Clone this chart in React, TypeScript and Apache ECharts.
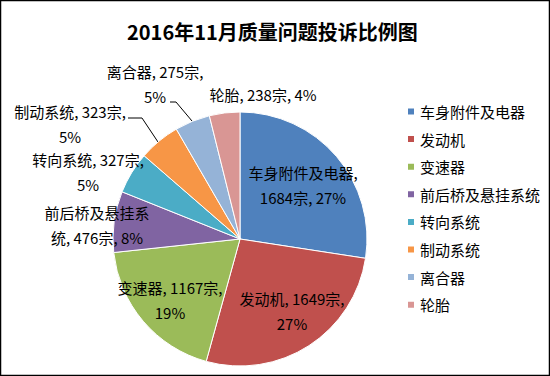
import React, { useEffect, useRef } from "react";
import * as echarts from "echarts";

const titleText = "2016年11月质量问题投诉比例图";
const categories = ["车身附件及电器", "发动机", "变速器", "前后桥及悬挂系统", "转向系统", "制动系统", "离合器", "轮胎"];
const counts = [1684, 1649, 1167, 476, 327, 323, 275, 238];
const colors = ["#4F81BD", "#C0504D", "#9BBB59", "#8064A2", "#4BACC6", "#F79646", "#95B3D7", "#D99694"];
// where each label's line break goes: "name" after the name, "count" after the count, a number = char index in the name, "none"
const labelBreaks: (string | number)[] = ["name", "count", "count", 7, "count", "count", "count", "none"];
// label centres (layout only)
const labelCenters: number[][] = [
  [303, 185],
  [292, 311],
  [170, 300],
  [97, 225],
  [88, 172],
  [70, 124],
  [155, 84],
  [263, 94],
];
const leaderLines: (number[][] | null)[] = [
  null, null, null, null, null,
  [[128, 118], [142, 118], [158, 142]],
  [[170, 102], [176, 102], [192, 121]],
  null,
];

const FONT = "'Microsoft YaHei', 'Noto Sans CJK SC', sans-serif";

function formatLabel(p: any): string {
  const mode = labelBreaks[p.dataIndex];
  const name = p.name as string;
  const tail = `${p.value}宗, ${p.percent}%`;
  if (mode === "name") return `${name},\n${tail}`;
  if (mode === "count") return `${name}, ${p.value}宗,\n${p.percent}%`;
  if (typeof mode === "number") return `${name.slice(0, mode)}\n${name.slice(mode)}, ${tail}`;
  return `${name}, ${tail}`;
}

export default function App() {
  const ref = useRef<HTMLDivElement>(null);
  useEffect(() => {
    if (!ref.current) return;
    const chart = echarts.init(ref.current, null, { renderer: "svg" });
    chart.setOption({
      animation: false,
      backgroundColor: "#ffffff",
      color: colors,
      title: {
        text: titleText,
        left: 122,
        top: 16,
        textStyle: { fontFamily: FONT, fontSize: 20, fontWeight: "bold", color: "#000" },
      },
      legend: {
        orient: "vertical",
        left: 401,
        top: 99,
        itemWidth: 8,
        itemHeight: 8,
        itemGap: 12.6,
        icon: "rect",
        data: categories.map((c, i) => ({ name: c, itemStyle: { color: colors[i] } })),
        textStyle: { fontFamily: FONT, fontSize: 15, lineHeight: 15, color: "#000" },
      },
      graphic: [
        {
          type: "rect",
          shape: { x: 0.5, y: 0.5, width: 549, height: 375 },
          style: { fill: "none", stroke: "#000", lineWidth: 1.5 },
          silent: true,
          z: 100,
        },
      ],
      series: [
        {
          type: "pie",
          center: [240, 239],
          radius: 127,
          startAngle: 90,
          clockwise: true,
          percentPrecision: 0,
          avoidLabelOverlap: false,
          itemStyle: { borderColor: "#ffffff", borderWidth: 1 },
          label: {
            show: true,
            position: "outside",
            formatter: formatLabel,
            fontFamily: FONT,
            fontSize: 15,
            lineHeight: 25,
            color: "#000",
          },
          labelLine: { show: true, lineStyle: { color: "#000", width: 1 } },
          labelLayout: (params: any) => {
            const i = params.dataIndex;
            const [x, y] = labelCenters[i];
            const res: any = { x, y, align: "center", verticalAlign: "middle" };
            if (leaderLines[i]) res.labelLinePoints = leaderLines[i];
            return res;
          },
          data: categories.map((c, i) => ({
            name: c,
            value: counts[i],
            labelLine: { show: leaderLines[i] !== null },
          })),
        },
      ],
    });
    return () => chart.dispose();
  }, []);
  return (
    <div
      ref={ref}
      style={{ position: "fixed", left: 0, top: 0, width: 550, height: 376 }}
    />
  );
}
